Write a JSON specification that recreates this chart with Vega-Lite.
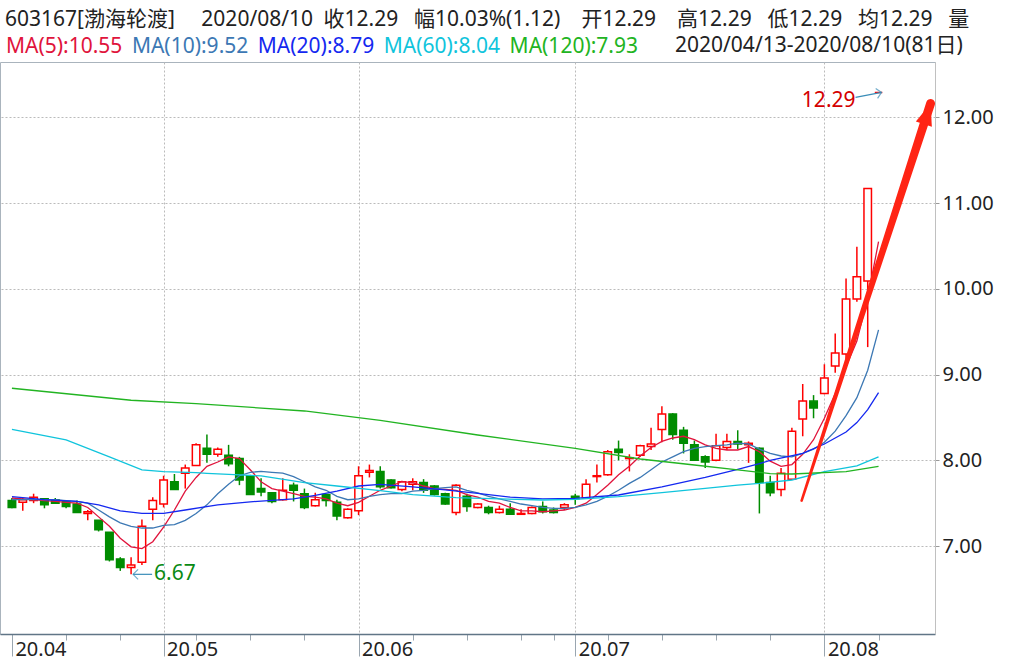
{
"$schema":"https://vega.github.io/schema/vega-lite/v6.json",
"width":935,"height":572,
"autosize":{"type":"none"},
"padding":{"left":0,"top":62,"right":96,"bottom":30},
"background":"#ffffff",
"title":{"text":"603167[渤海轮渡]\u2003 2020/08/10\u2002收12.29\u2002\u2005幅10.03%(1.12)\u2003开12.29\u2003高12.29\u2002\u2005低12.29\u2002\u2005均12.29\u2002\u2005量","anchor":"start","frame":"group","dx":5,"offset":6,"fontSize":21,"fontWeight":"normal","color":"#222222"},
"config":{"font":"Noto Sans, Noto Sans CJK SC, sans-serif","view":{"stroke":"#aab4bd","strokeWidth":1},
"axisY":{"labelFontSize":20,"labelColor":"#222222","labelAlign":"left","labelBaseline":"middle","labelPadding":3,"tickSize":4,"tickColor":"#999999","domainColor":"#c0c0c0","grid":true,"gridColor":"#bbbbbb","gridDash":[2,2]}},
"datasets":{
"k":[
{"d":"2020-04-13","i":0,"o":7.53,"h":7.56,"l":7.44,"c":7.45},
{"d":"2020-04-14","i":1,"o":7.51,"h":7.56,"l":7.41,"c":7.54},
{"d":"2020-04-15","i":2,"o":7.53,"h":7.61,"l":7.50,"c":7.57},
{"d":"2020-04-16","i":3,"o":7.55,"h":7.55,"l":7.44,"c":7.48},
{"d":"2020-04-17","i":4,"o":7.54,"h":7.56,"l":7.49,"c":7.50},
{"d":"2020-04-20","i":5,"o":7.52,"h":7.52,"l":7.44,"c":7.46},
{"d":"2020-04-21","i":6,"o":7.49,"h":7.53,"l":7.39,"c":7.39},
{"d":"2020-04-22","i":7,"o":7.38,"h":7.42,"l":7.30,"c":7.40},
{"d":"2020-04-23","i":8,"o":7.30,"h":7.30,"l":7.17,"c":7.19},
{"d":"2020-04-24","i":9,"o":7.16,"h":7.16,"l":6.82,"c":6.84},
{"d":"2020-04-27","i":10,"o":6.85,"h":6.87,"l":6.71,"c":6.75},
{"d":"2020-04-28","i":11,"o":6.75,"h":6.87,"l":6.67,"c":6.78},
{"d":"2020-04-29","i":12,"o":6.81,"h":7.31,"l":6.78,"c":7.23},
{"d":"2020-04-30","i":13,"o":7.43,"h":7.57,"l":7.30,"c":7.53},
{"d":"2020-05-06","i":14,"o":7.49,"h":7.82,"l":7.45,"c":7.77},
{"d":"2020-05-07","i":15,"o":7.75,"h":7.84,"l":7.66,"c":7.66},
{"d":"2020-05-08","i":16,"o":7.85,"h":7.95,"l":7.67,"c":7.91},
{"d":"2020-05-11","i":17,"o":7.94,"h":8.20,"l":7.94,"c":8.18},
{"d":"2020-05-12","i":18,"o":8.14,"h":8.30,"l":7.97,"c":8.07},
{"d":"2020-05-13","i":19,"o":8.07,"h":8.15,"l":8.04,"c":8.13},
{"d":"2020-05-14","i":20,"o":8.06,"h":8.18,"l":7.93,"c":7.96},
{"d":"2020-05-15","i":21,"o":8.02,"h":8.04,"l":7.71,"c":7.77},
{"d":"2020-05-18","i":22,"o":7.82,"h":7.83,"l":7.60,"c":7.60},
{"d":"2020-05-19","i":23,"o":7.67,"h":7.79,"l":7.58,"c":7.63},
{"d":"2020-05-20","i":24,"o":7.62,"h":7.62,"l":7.50,"c":7.52},
{"d":"2020-05-21","i":25,"o":7.54,"h":7.79,"l":7.53,"c":7.65},
{"d":"2020-05-22","i":26,"o":7.71,"h":7.74,"l":7.52,"c":7.65},
{"d":"2020-05-25","i":27,"o":7.61,"h":7.67,"l":7.43,"c":7.45},
{"d":"2020-05-26","i":28,"o":7.47,"h":7.62,"l":7.46,"c":7.54},
{"d":"2020-05-27","i":29,"o":7.60,"h":7.60,"l":7.46,"c":7.53},
{"d":"2020-05-28","i":30,"o":7.51,"h":7.54,"l":7.30,"c":7.35},
{"d":"2020-05-29","i":31,"o":7.33,"h":7.44,"l":7.32,"c":7.43},
{"d":"2020-06-01","i":32,"o":7.41,"h":7.93,"l":7.36,"c":7.82},
{"d":"2020-06-02","i":33,"o":7.86,"h":7.95,"l":7.80,"c":7.88},
{"d":"2020-06-03","i":34,"o":7.87,"h":7.93,"l":7.67,"c":7.69},
{"d":"2020-06-04","i":35,"o":7.77,"h":7.78,"l":7.67,"c":7.68},
{"d":"2020-06-05","i":36,"o":7.66,"h":7.76,"l":7.64,"c":7.75},
{"d":"2020-06-08","i":37,"o":7.72,"h":7.79,"l":7.65,"c":7.75},
{"d":"2020-06-09","i":38,"o":7.74,"h":7.78,"l":7.62,"c":7.65},
{"d":"2020-06-10","i":39,"o":7.70,"h":7.71,"l":7.59,"c":7.60},
{"d":"2020-06-11","i":40,"o":7.61,"h":7.62,"l":7.48,"c":7.49},
{"d":"2020-06-12","i":41,"o":7.39,"h":7.72,"l":7.36,"c":7.71},
{"d":"2020-06-15","i":42,"o":7.58,"h":7.61,"l":7.40,"c":7.46},
{"d":"2020-06-16","i":43,"o":7.45,"h":7.50,"l":7.44,"c":7.49},
{"d":"2020-06-17","i":44,"o":7.45,"h":7.47,"l":7.37,"c":7.39},
{"d":"2020-06-18","i":45,"o":7.39,"h":7.47,"l":7.38,"c":7.43},
{"d":"2020-06-19","i":46,"o":7.43,"h":7.50,"l":7.37,"c":7.37},
{"d":"2020-06-22","i":47,"o":7.37,"h":7.43,"l":7.37,"c":7.38},
{"d":"2020-06-23","i":48,"o":7.38,"h":7.46,"l":7.37,"c":7.45},
{"d":"2020-06-24","i":49,"o":7.46,"h":7.52,"l":7.38,"c":7.40},
{"d":"2020-06-29","i":50,"o":7.42,"h":7.45,"l":7.38,"c":7.39},
{"d":"2020-06-30","i":51,"o":7.45,"h":7.50,"l":7.42,"c":7.48},
{"d":"2020-07-01","i":52,"o":7.58,"h":7.61,"l":7.48,"c":7.55},
{"d":"2020-07-02","i":53,"o":7.56,"h":7.78,"l":7.56,"c":7.72},
{"d":"2020-07-03","i":54,"o":7.81,"h":7.95,"l":7.74,"c":7.82},
{"d":"2020-07-06","i":55,"o":7.83,"h":8.12,"l":7.82,"c":8.10},
{"d":"2020-07-07","i":56,"o":8.13,"h":8.23,"l":8.00,"c":8.09},
{"d":"2020-07-08","i":57,"o":8.02,"h":8.07,"l":7.87,"c":8.03},
{"d":"2020-07-09","i":58,"o":8.06,"h":8.18,"l":8.04,"c":8.17},
{"d":"2020-07-10","i":59,"o":8.16,"h":8.38,"l":8.12,"c":8.19},
{"d":"2020-07-13","i":60,"o":8.36,"h":8.63,"l":8.21,"c":8.54},
{"d":"2020-07-14","i":61,"o":8.54,"h":8.55,"l":8.24,"c":8.30},
{"d":"2020-07-15","i":62,"o":8.35,"h":8.39,"l":8.08,"c":8.20},
{"d":"2020-07-16","i":63,"o":8.18,"h":8.23,"l":8.00,"c":8.00},
{"d":"2020-07-17","i":64,"o":8.04,"h":8.06,"l":7.91,"c":7.98},
{"d":"2020-07-20","i":65,"o":8.00,"h":8.31,"l":7.99,"c":8.17},
{"d":"2020-07-21","i":66,"o":8.15,"h":8.31,"l":8.12,"c":8.22},
{"d":"2020-07-22","i":67,"o":8.22,"h":8.35,"l":8.13,"c":8.19},
{"d":"2020-07-23","i":68,"o":8.18,"h":8.22,"l":7.97,"c":8.20},
{"d":"2020-07-24","i":69,"o":8.14,"h":8.15,"l":7.38,"c":7.74},
{"d":"2020-07-27","i":70,"o":7.74,"h":7.82,"l":7.58,"c":7.62},
{"d":"2020-07-28","i":71,"o":7.66,"h":7.91,"l":7.58,"c":7.85},
{"d":"2020-07-29","i":72,"o":7.78,"h":8.38,"l":7.77,"c":8.34},
{"d":"2020-07-30","i":73,"o":8.48,"h":8.89,"l":8.28,"c":8.69},
{"d":"2020-07-31","i":74,"o":8.69,"h":8.76,"l":8.49,"c":8.61},
{"d":"2020-08-03","i":75,"o":8.78,"h":9.12,"l":8.77,"c":8.96},
{"d":"2020-08-04","i":76,"o":9.10,"h":9.48,"l":9.02,"c":9.25},
{"d":"2020-08-05","i":77,"o":9.24,"h":10.12,"l":9.15,"c":9.88},
{"d":"2020-08-06","i":78,"o":9.88,"h":10.49,"l":9.85,"c":10.14},
{"d":"2020-08-07","i":79,"o":10.09,"h":11.17,"l":9.32,"c":11.17},
{"d":"2020-08-10","i":80,"o":12.29,"h":12.29,"l":12.29,"c":12.29}
],
"ma":[
{"s":"MA5","i":0,"v":7.56},{"s":"MA5","i":1,"v":7.55},{"s":"MA5","i":2,"v":7.54},{"s":"MA5","i":3,"v":7.53},{"s":"MA5","i":4,"v":7.52},{"s":"MA5","i":5,"v":7.51},{"s":"MA5","i":6,"v":7.50},{"s":"MA5","i":7,"v":7.45},{"s":"MA5","i":8,"v":7.34},{"s":"MA5","i":9,"v":7.23},{"s":"MA5","i":10,"v":7.09},{"s":"MA5","i":11,"v":6.99},{"s":"MA5","i":12,"v":6.97},{"s":"MA5","i":13,"v":7.05},{"s":"MA5","i":14,"v":7.22},{"s":"MA5","i":15,"v":7.42},{"s":"MA5","i":16,"v":7.64},{"s":"MA5","i":17,"v":7.80},{"s":"MA5","i":18,"v":7.93},{"s":"MA5","i":19,"v":7.98},{"s":"MA5","i":20,"v":8.04},{"s":"MA5","i":21,"v":8.02},{"s":"MA5","i":22,"v":7.89},{"s":"MA5","i":23,"v":7.75},{"s":"MA5","i":24,"v":7.67},{"s":"MA5","i":25,"v":7.64},{"s":"MA5","i":26,"v":7.61},{"s":"MA5","i":27,"v":7.58},{"s":"MA5","i":28,"v":7.57},{"s":"MA5","i":29,"v":7.55},{"s":"MA5","i":30,"v":7.50},{"s":"MA5","i":31,"v":7.47},{"s":"MA5","i":32,"v":7.51},{"s":"MA5","i":33,"v":7.58},{"s":"MA5","i":34,"v":7.65},{"s":"MA5","i":35,"v":7.70},{"s":"MA5","i":36,"v":7.75},{"s":"MA5","i":37,"v":7.74},{"s":"MA5","i":38,"v":7.70},{"s":"MA5","i":39,"v":7.67},{"s":"MA5","i":40,"v":7.66},{"s":"MA5","i":41,"v":7.65},{"s":"MA5","i":42,"v":7.60},{"s":"MA5","i":43,"v":7.57},{"s":"MA5","i":44,"v":7.52},{"s":"MA5","i":45,"v":7.50},{"s":"MA5","i":46,"v":7.45},{"s":"MA5","i":47,"v":7.41},{"s":"MA5","i":48,"v":7.41},{"s":"MA5","i":49,"v":7.40},{"s":"MA5","i":50,"v":7.41},{"s":"MA5","i":51,"v":7.42},{"s":"MA5","i":52,"v":7.45},{"s":"MA5","i":53,"v":7.50},{"s":"MA5","i":54,"v":7.60},{"s":"MA5","i":55,"v":7.71},{"s":"MA5","i":56,"v":7.83},{"s":"MA5","i":57,"v":7.93},{"s":"MA5","i":58,"v":8.05},{"s":"MA5","i":59,"v":8.15},{"s":"MA5","i":60,"v":8.22},{"s":"MA5","i":61,"v":8.26},{"s":"MA5","i":62,"v":8.28},{"s":"MA5","i":63,"v":8.24},{"s":"MA5","i":64,"v":8.18},{"s":"MA5","i":65,"v":8.14},{"s":"MA5","i":66,"v":8.12},{"s":"MA5","i":67,"v":8.12},{"s":"MA5","i":68,"v":8.16},{"s":"MA5","i":69,"v":8.10},{"s":"MA5","i":70,"v":7.99},{"s":"MA5","i":71,"v":7.93},{"s":"MA5","i":72,"v":7.95},{"s":"MA5","i":73,"v":8.07},{"s":"MA5","i":74,"v":8.24},{"s":"MA5","i":75,"v":8.49},{"s":"MA5","i":76,"v":8.78},{"s":"MA5","i":77,"v":9.09},{"s":"MA5","i":78,"v":9.39},{"s":"MA5","i":79,"v":9.89},{"s":"MA5","i":80,"v":10.55},
{"s":"MA10","i":0,"v":7.54},{"s":"MA10","i":2,"v":7.54},{"s":"MA10","i":4,"v":7.54},{"s":"MA10","i":5,"v":7.53},{"s":"MA10","i":6,"v":7.52},{"s":"MA10","i":7,"v":7.50},{"s":"MA10","i":8,"v":7.42},{"s":"MA10","i":9,"v":7.34},{"s":"MA10","i":10,"v":7.27},{"s":"MA10","i":11,"v":7.23},{"s":"MA10","i":12,"v":7.21},{"s":"MA10","i":13,"v":7.21},{"s":"MA10","i":14,"v":7.24},{"s":"MA10","i":15,"v":7.25},{"s":"MA10","i":16,"v":7.30},{"s":"MA10","i":17,"v":7.38},{"s":"MA10","i":18,"v":7.48},{"s":"MA10","i":19,"v":7.61},{"s":"MA10","i":20,"v":7.72},{"s":"MA10","i":21,"v":7.82},{"s":"MA10","i":22,"v":7.86},{"s":"MA10","i":23,"v":7.87},{"s":"MA10","i":24,"v":7.86},{"s":"MA10","i":25,"v":7.85},{"s":"MA10","i":26,"v":7.81},{"s":"MA10","i":27,"v":7.75},{"s":"MA10","i":28,"v":7.69},{"s":"MA10","i":29,"v":7.65},{"s":"MA10","i":30,"v":7.58},{"s":"MA10","i":31,"v":7.54},{"s":"MA10","i":32,"v":7.55},{"s":"MA10","i":33,"v":7.58},{"s":"MA10","i":34,"v":7.60},{"s":"MA10","i":35,"v":7.61},{"s":"MA10","i":36,"v":7.61},{"s":"MA10","i":37,"v":7.64},{"s":"MA10","i":38,"v":7.65},{"s":"MA10","i":39,"v":7.67},{"s":"MA10","i":40,"v":7.68},{"s":"MA10","i":41,"v":7.69},{"s":"MA10","i":42,"v":7.65},{"s":"MA10","i":43,"v":7.62},{"s":"MA10","i":44,"v":7.58},{"s":"MA10","i":45,"v":7.55},{"s":"MA10","i":46,"v":7.52},{"s":"MA10","i":47,"v":7.49},{"s":"MA10","i":48,"v":7.47},{"s":"MA10","i":49,"v":7.45},{"s":"MA10","i":50,"v":7.44},{"s":"MA10","i":51,"v":7.44},{"s":"MA10","i":52,"v":7.45},{"s":"MA10","i":53,"v":7.48},{"s":"MA10","i":54,"v":7.52},{"s":"MA10","i":55,"v":7.58},{"s":"MA10","i":56,"v":7.65},{"s":"MA10","i":57,"v":7.73},{"s":"MA10","i":58,"v":7.80},{"s":"MA10","i":59,"v":7.89},{"s":"MA10","i":60,"v":7.98},{"s":"MA10","i":61,"v":8.04},{"s":"MA10","i":62,"v":8.10},{"s":"MA10","i":63,"v":8.14},{"s":"MA10","i":64,"v":8.16},{"s":"MA10","i":65,"v":8.17},{"s":"MA10","i":66,"v":8.18},{"s":"MA10","i":67,"v":8.20},{"s":"MA10","i":68,"v":8.19},{"s":"MA10","i":69,"v":8.13},{"s":"MA10","i":70,"v":8.08},{"s":"MA10","i":71,"v":8.05},{"s":"MA10","i":72,"v":8.04},{"s":"MA10","i":73,"v":8.08},{"s":"MA10","i":74,"v":8.13},{"s":"MA10","i":75,"v":8.21},{"s":"MA10","i":76,"v":8.34},{"s":"MA10","i":77,"v":8.52},{"s":"MA10","i":78,"v":8.73},{"s":"MA10","i":79,"v":9.05},{"s":"MA10","i":80,"v":9.52},
{"s":"MA20","i":0,"v":7.575},{"s":"MA20","i":3,"v":7.54},{"s":"MA20","i":6,"v":7.52},{"s":"MA20","i":8,"v":7.48},{"s":"MA20","i":10,"v":7.41},{"s":"MA20","i":12,"v":7.38},{"s":"MA20","i":14,"v":7.38},{"s":"MA20","i":16,"v":7.42},{"s":"MA20","i":19,"v":7.48},{"s":"MA20","i":22,"v":7.515},{"s":"MA20","i":26,"v":7.55},{"s":"MA20","i":28,"v":7.59},{"s":"MA20","i":30,"v":7.64},{"s":"MA20","i":32,"v":7.70},{"s":"MA20","i":34,"v":7.72},{"s":"MA20","i":37,"v":7.69},{"s":"MA20","i":40,"v":7.655},{"s":"MA20","i":43,"v":7.615},{"s":"MA20","i":46,"v":7.57},{"s":"MA20","i":49,"v":7.55},{"s":"MA20","i":52,"v":7.555},{"s":"MA20","i":56,"v":7.595},{"s":"MA20","i":60,"v":7.69},{"s":"MA20","i":64,"v":7.80},{"s":"MA20","i":67,"v":7.895},{"s":"MA20","i":69,"v":7.96},{"s":"MA20","i":70,"v":8.00},{"s":"MA20","i":73,"v":8.08},{"s":"MA20","i":75,"v":8.19},{"s":"MA20","i":77,"v":8.33},{"s":"MA20","i":78,"v":8.44},{"s":"MA20","i":79,"v":8.59},{"s":"MA20","i":80,"v":8.79},
{"s":"MA60","i":0,"v":8.36},{"s":"MA60","i":5,"v":8.237},{"s":"MA60","i":9,"v":8.04},{"s":"MA60","i":12,"v":7.887},{"s":"MA60","i":14,"v":7.867},{"s":"MA60","i":17,"v":7.855},{"s":"MA60","i":18,"v":7.848},{"s":"MA60","i":23,"v":7.817},{"s":"MA60","i":27,"v":7.74},{"s":"MA60","i":30,"v":7.70},{"s":"MA60","i":34,"v":7.645},{"s":"MA60","i":37,"v":7.60},{"s":"MA60","i":41,"v":7.564},{"s":"MA60","i":45,"v":7.549},{"s":"MA60","i":49,"v":7.537},{"s":"MA60","i":52,"v":7.545},{"s":"MA60","i":56,"v":7.575},{"s":"MA60","i":60,"v":7.622},{"s":"MA60","i":64,"v":7.673},{"s":"MA60","i":67,"v":7.71},{"s":"MA60","i":69,"v":7.73},{"s":"MA60","i":72,"v":7.77},{"s":"MA60","i":75,"v":7.867},{"s":"MA60","i":78,"v":7.934},{"s":"MA60","i":80,"v":8.04},
{"s":"MA120","i":0,"v":8.84},{"s":"MA120","i":11,"v":8.70},{"s":"MA120","i":17,"v":8.66},{"s":"MA120","i":27,"v":8.575},{"s":"MA120","i":34,"v":8.466},{"s":"MA120","i":43,"v":8.295},{"s":"MA120","i":52,"v":8.14},{"s":"MA120","i":58,"v":8.015},{"s":"MA120","i":63,"v":7.945},{"s":"MA120","i":67,"v":7.887},{"s":"MA120","i":70,"v":7.845},{"s":"MA120","i":72,"v":7.84},{"s":"MA120","i":77,"v":7.867},{"s":"MA120","i":80,"v":7.93}
],
"notes":[{"i":11,"p":6.67,"t":"6.67"},{"i":80,"p":12.29,"t":"12.29"}],
"trend":[{"i":72.9,"p":7.53},{"i":84.8,"p":12.16}]
},
"encoding":{"x":{"field":"i","type":"quantitative","scale":{"domain":[-0.64,84.75],"nice":false,"zero":false},
"axis":{"title":null,"values":[0,5,10,14,17,22,27,32,37,42,47,50,52,55,60,65,70,75,80],
"labelExpr":"datum.value==0?'20.04':datum.value==14?'20.05':datum.value==32?'20.06':datum.value==52?'20.07':datum.value==75?'20.08':''",
"labelAlign":"left","labelBaseline":"top","labelOffset":3,"labelPadding":-17,"labelFontSize":20,"labelColor":"#222222","labelFlush":false,"labelOverlap":false,
"domainColor":"#607586","domainWidth":1.5,"tickColor":"#9aa6b0",
"tickSize":{"condition":{"test":"datum.value==0||datum.value==14||datum.value==32||datum.value==52||datum.value==75","value":22},"value":6},
"grid":true,"gridColor":"#bbbbbb","gridDash":[2,2],
"gridOpacity":{"condition":{"test":"datum.value==14||datum.value==32||datum.value==52||datum.value==75","value":1},"value":0}}}},
"layer":[
{"data":{"name":"k"},"mark":{"type":"rule","strokeWidth":1.5},
"encoding":{"y":{"field":"l","type":"quantitative","scale":{"domain":[5.974,12.645],"nice":false,"zero":false},
"axis":{"title":null,"orient":"right","values":[7,8,9,10,11,12],"format":".2f"}},
"y2":{"field":"h"},
"stroke":{"condition":{"test":"datum.c >= datum.o","value":"#ff0000"},"value":"#008c00"}}},
{"data":{"name":"k"},"mark":{"type":"bar","width":7.5,"strokeWidth":1.5},
"encoding":{"y":{"field":"o","type":"quantitative","scale":{"domain":[5.974,12.645],"nice":false,"zero":false},"axis":{"title":null,"orient":"right","values":[7,8,9,10,11,12],"format":".2f"}},
"y2":{"field":"c"},
"fill":{"condition":{"test":"datum.c >= datum.o","value":"#ffffff"},"value":"#008c00"},
"stroke":{"condition":{"test":"datum.c >= datum.o","value":"#ff0000"},"value":"#008c00"}}},
{"data":{"name":"ma"},"mark":{"type":"line","strokeWidth":1.3},
"encoding":{"y":{"field":"v","type":"quantitative","scale":{"domain":[5.974,12.645],"nice":false,"zero":false},"axis":{"title":null,"orient":"right","values":[7,8,9,10,11,12],"format":".2f"}},
"color":{"field":"s","type":"nominal","scale":{"domain":["MA5","MA10","MA20","MA60","MA120"],"range":["#e0143c","#3c78b4","#1428f0","#10c4dc","#22b422"]},
"legend":{"orient":"top","direction":"horizontal","title":"2020/04/13-2020/08/10(81日)","titleOrient":"right","titleFontSize":21,"titleFontWeight":"normal","titleColor":"#222222","titlePadding":37,"titleBaseline":"middle","titleLimit":500,
"labelFontSize":21,"labelOffset":-15,"columnPadding":2.9,"gridAlign":"none","offset":5,"padding":0,"symbolSize":0,"symbolOpacity":0,"symbolStrokeWidth":0,"labelLimit":300,
"labelExpr":"datum.value=='MA5'?'MA(5):10.55':datum.value=='MA10'?'MA(10):9.52':datum.value=='MA20'?'MA(20):8.79':datum.value=='MA60'?'MA(60):8.04':'MA(120):7.93'",
"labelColor":{"expr":"datum.value=='MA5'?'#e0143c':datum.value=='MA10'?'#3c78b4':datum.value=='MA20'?'#1428f0':datum.value=='MA60'?'#10c4dc':'#22b422'"}}}}},
{"data":{"name":"notes"},"transform":[{"filter":"datum.i == 11"}],"mark":{"type":"text","align":"left","baseline":"middle","dx":23,"fontSize":21,"color":"#0a8a14"},
"encoding":{"y":{"field":"p","type":"quantitative","scale":{"domain":[5.974,12.645],"nice":false,"zero":false},"axis":{"title":null,"orient":"right","values":[7,8,9,10,11,12],"format":".2f"}},"text":{"field":"t"}}},
{"data":{"name":"notes"},"transform":[{"filter":"datum.i == 11"}],"mark":{"type":"rule","xOffset":2,"x2Offset":21,"stroke":"#3a8db8","strokeWidth":1.2},
"encoding":{"y":{"field":"p","type":"quantitative","scale":{"domain":[5.974,12.645],"nice":false,"zero":false},"axis":{"title":null,"orient":"right","values":[7,8,9,10,11,12],"format":".2f"}},"x2":{"field":"i"},"y2":{"field":"p"}}},
{"data":{"name":"notes"},"transform":[{"filter":"datum.i == 11"}],"mark":{"type":"point","shape":"M1,-1L0,0L1,1","filled":false,"stroke":"#3a8db8","strokeWidth":1.2,"size":100,"xOffset":2},
"encoding":{"y":{"field":"p","type":"quantitative","scale":{"domain":[5.974,12.645],"nice":false,"zero":false},"axis":{"title":null,"orient":"right","values":[7,8,9,10,11,12],"format":".2f"}}}},
{"data":{"name":"notes"},"transform":[{"filter":"datum.i == 80"}],"mark":{"type":"text","align":"right","baseline":"middle","dx":-23,"dy":9,"fontSize":21,"color":"#d40000"},
"encoding":{"y":{"field":"p","type":"quantitative","scale":{"domain":[5.974,12.645],"nice":false,"zero":false},"axis":{"title":null,"orient":"right","values":[7,8,9,10,11,12],"format":".2f"}},"text":{"field":"t"}}},
{"data":{"name":"notes"},"transform":[{"filter":"datum.i == 80"}],"mark":{"type":"rule","xOffset":-23,"yOffset":5,"x2Offset":3,"y2Offset":0,"stroke":"#3a8db8","strokeWidth":1.2},
"encoding":{"y":{"field":"p","type":"quantitative","scale":{"domain":[5.974,12.645],"nice":false,"zero":false},"axis":{"title":null,"orient":"right","values":[7,8,9,10,11,12],"format":".2f"}},"x2":{"field":"i"},"y2":{"field":"p"}}},
{"data":{"name":"notes"},"transform":[{"filter":"datum.i == 80"}],"mark":{"type":"point","shape":"M-1,-1L0,0L-1,1","filled":false,"stroke":"#3a8db8","strokeWidth":1.2,"size":100,"xOffset":3,"angle":-11},
"encoding":{"y":{"field":"p","type":"quantitative","scale":{"domain":[5.974,12.645],"nice":false,"zero":false},"axis":{"title":null,"orient":"right","values":[7,8,9,10,11,12],"format":".2f"}}}},
{"data":{"name":"trend"},"mark":{"type":"trail","color":"#ff2414"},
"encoding":{"y":{"field":"p","type":"quantitative","scale":{"domain":[5.974,12.645],"nice":false,"zero":false},"axis":{"title":null,"orient":"right","values":[7,8,9,10,11,12],"format":".2f"}},
"size":{"field":"p","type":"quantitative","scale":{"domain":[7.5,12.2],"range":[2.5,9],"zero":false},"legend":null}}},
{"data":{"name":"trend"},"transform":[{"filter":"datum.p > 12"}],"mark":{"type":"point","shape":"M0,0L0.7,1.8L-0.7,1.8Z","filled":true,"color":"#ff2414","opacity":1,"size":576,"angle":18},
"encoding":{"y":{"field":"p","type":"quantitative","scale":{"domain":[5.974,12.645],"nice":false,"zero":false},"axis":{"title":null,"orient":"right","values":[7,8,9,10,11,12],"format":".2f"}}}}
]
}
